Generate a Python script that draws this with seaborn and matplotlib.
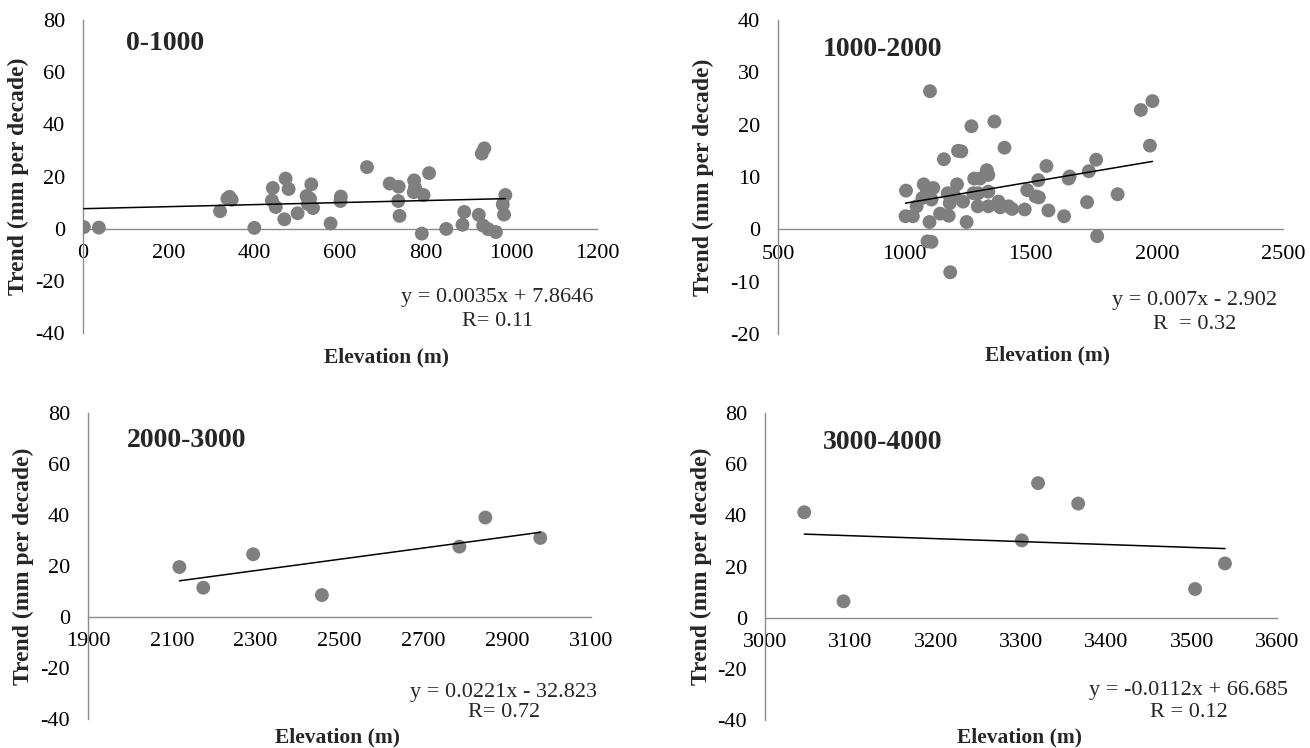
import numpy as np
import pandas as pd
import matplotlib
matplotlib.use("Agg")
import matplotlib.pyplot as plt
import seaborn as sns

sns.set_theme(style="white")
plt.rcParams['font.family'] = ['Liberation Serif', 'DejaVu Serif']
plt.rcParams['axes.unicode_minus'] = False

# ---------------- data ----------------
p1_x = [2, 37, 320, 337, 347, 342, 400, 443, 441, 450, 470, 473, 480, 501, 522, 533,
        530, 525, 537, 578, 602, 601, 663, 716, 737, 736, 739, 773, 775, 772, 795, 808,
        791, 848, 890, 886, 924, 931, 937, 934, 946, 964, 986, 980, 983]
p1_y = [0.6, 0.4, 6.7, 11.5, 11.1, 12.2, 0.3, 15.6, 10.8, 8.3, 3.6, 19.2, 15.2, 5.9, 12.5, 17.0,
        11.5, 9.5, 7.9, 2.0, 12.3, 10.6, 23.6, 17.3, 16.1, 10.6, 4.9, 18.5, 15.8, 14.0, 12.9, 21.3,
        -1.9, -0.1, 6.4, 1.5, 5.3, 28.8, 30.8, 1.2, -0.2, -1.3, 12.9, 9.3, 5.4]

p2_x = [1007, 1005, 1034, 1049, 1072, 1077, 1090, 1115, 1108, 1100, 1092, 1108, 1102, 1142,
        1157, 1176, 1182, 1172, 1180, 1196, 1209, 1213, 1226, 1233, 1247, 1266, 1274, 1277,
        1291, 1300, 1293, 1327, 1333, 1333, 1333, 1357, 1373, 1380, 1397, 1413, 1427, 1477,
        1487, 1520, 1533, 1531, 1563, 1571, 1633, 1651, 1655, 1724, 1731, 1760, 1764, 1845,
        1937, 1983, 1973]
p2_y = [7.4, 2.5, 2.5, 4.4, 6.0, 8.6, 7.4, 7.9, 5.7, 1.4, -2.3, -2.4, 26.4, 3.0,
        13.4, 2.6, -8.2, 6.9, 5.0, 6.6, 8.6, 15.0, 14.9, 5.3, 1.4, 19.7, 6.9, 9.7,
        4.4, 9.7, 6.9, 11.3, 10.4, 7.2, 4.4, 20.6, 5.3, 4.2, 15.6, 4.4, 3.9, 3.8,
        7.5, 6.3, 6.1, 9.4, 12.1, 3.6, 2.5, 9.7, 10.1, 5.2, 11.1, 13.3, -1.3, 6.7,
        22.8, 24.5, 16.0]

p3_x = [2118, 2175, 2294, 2458, 2786, 2848, 2979]
p3_y = [19.6, 11.5, 24.6, 8.6, 27.6, 39.0, 31.0]

p4_x = [3046, 3092, 3301, 3320, 3367, 3504, 3539]
p4_y = [41.2, 6.4, 30.2, 52.6, 44.6, 11.2, 21.2]

titles = ["0-1000", "1000-2000", "2000-3000", "3000-4000"]
equations = ["y = 0.0035x + 7.8646", "y = 0.007x - 2.902",
             "y = 0.0221x - 32.823", "y = -0.0112x + 66.685"]
r_texts = ["R= 0.11", "R  = 0.32", "R= 0.72", "R = 0.12"]

x_ticks = [np.arange(0, 1201, 200), np.arange(500, 2501, 500),
           np.arange(1900, 3101, 200), np.arange(3000, 3601, 100)]
y_ticks = [np.arange(-40, 81, 20), np.arange(-20, 41, 10),
           np.arange(-40, 81, 20), np.arange(-40, 81, 20)]

# ---------------- layout ----------------
W, H = 1310, 748
fig = plt.figure(figsize=(W / 100, H / 100), dpi=100)
fig.patch.set_facecolor("white")

boxes = [(83, 20, 597, 333), (778, 20, 1283, 334), (88, 413, 591, 719), (765, 413, 1277, 720)]
title_pos = [(0.083, 0.925), (0.0885, 0.905), (0.077, 0.91), (0.113, 0.905)]
eq_pos = [(0.806, 0.1125, 0.038), (0.8255, 0.108, 0.029), (0.827, 0.088, 0.021), (0.828, 0.0975, 0.025)]
xlab_x = [0.59, 0.533, 0.497, 0.498]
ylab_x = [-0.125, -0.148, -0.128, -0.124]
xlab_y = [-0.078, -0.068, -0.062, -0.058]

datasets = [(p1_x, p1_y), (p2_x, p2_y), (p3_x, p3_y), (p4_x, p4_y)]
grey = "#8c8c8c"
pt_col = "#7f7f7f"

for i, ((xs, ys), (l, t, r, b)) in enumerate(zip(datasets, boxes)):
    ax = fig.add_axes([l / W, 1 - b / H, (r - l) / W, (b - t) / H])
    df = pd.DataFrame({"x": xs, "y": ys})
    sns.scatterplot(data=df, x="x", y="y", ax=ax, color=pt_col, s=100,
                    edgecolor="none", linewidth=0, zorder=3)
    sns.regplot(data=df, x="x", y="y", ax=ax, scatter=False, ci=None,
                truncate=True, line_kws=dict(color="black", lw=1.1, zorder=4))
    xt, yt = x_ticks[i], y_ticks[i]
    ax.set_xlim(xt[0], xt[-1])
    ax.set_ylim(yt[0], yt[-1])
    ax.set_xticks(xt)
    ax.set_yticks(yt)
    ax.spines["top"].set_visible(False)
    ax.spines["right"].set_visible(False)
    ax.spines["bottom"].set_position(("data", 0))
    for s in ("left", "bottom"):
        ax.spines[s].set_color(grey)
        ax.spines[s].set_linewidth(1.0)
    ax.tick_params(axis="both", which="major", direction="out", length=5,
                   width=1.0, color=grey, labelsize=16, labelcolor="black")
    ax.tick_params(axis="y", pad=8)
    ax.tick_params(axis="x", pad=6)
    ax.grid(False)
    ax.set_facecolor("none")
    ax.set_xlabel("Elevation (m)", fontsize=15.5, fontweight="bold")
    ax.set_ylabel("Trend (mm per decade)", fontsize=17, fontweight="bold")
    ax.xaxis.set_label_coords(xlab_x[i], xlab_y[i])
    ax.yaxis.set_label_coords(ylab_x[i], 0.5)
    ax.xaxis.label.set_va("center")
    ax.yaxis.label.set_va("center")
    tx, ty = title_pos[i]
    ax.text(tx, ty, titles[i], transform=ax.transAxes, fontsize=20,
            fontweight="bold", ha="left", va="center")
    ex, ey, ry = eq_pos[i]
    ax.text(ex, ey, equations[i], transform=ax.transAxes, fontsize=16,
            ha="center", va="center")
    ax.text(ex, ry, r_texts[i], transform=ax.transAxes, fontsize=16,
            ha="center", va="center")

fig.savefig("out.png", dpi=100, facecolor="white")
